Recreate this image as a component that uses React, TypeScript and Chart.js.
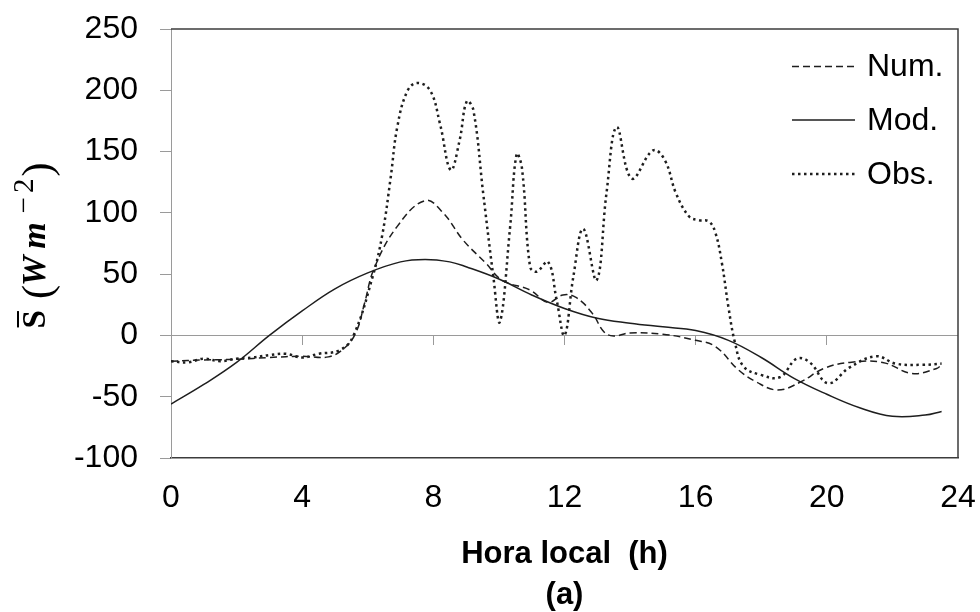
import React, { useEffect, useRef } from 'react';
import { Chart, registerables } from 'chart.js';

Chart.register(...registerables);

// ---- data ----
const seriesLabels = ['Num.', 'Mod.', 'Obs.'];
const xTitleLines = ['Hora local  (h)', '(a)'];
const xMin = 0;
const xMax = 24;
const xStep = 4;
const yMin = -100;
const yMax = 250;
const yStep = 50;

const numHours = [0, 1, 2, 3, 4, 4.8, 5.3, 5.65, 5.9, 6.2, 6.9, 7.75, 8.3, 8.9, 9.6, 10.1, 10.95, 11.5, 11.95, 12.35, 12.85, 13.2, 13.5, 14, 15, 16, 16.6, 17.3, 17.85, 18.5, 19.2, 19.9, 20.7, 21.7, 22.6, 23.35, 23.5];
const numValues = [-21, -20, -19.5, -18, -17, -17.5, -10, 3, 26, 55, 89, 110, 100, 78, 59, 45, 37, 27, 33, 31, 18, 3, -0.5, 2, 1, -4, -9, -28, -38, -44.5, -38, -27, -22, -22, -31, -27, -24];

const modHours = [0, 1, 2, 3, 4, 5, 6, 7, 7.75, 8.5, 9, 10, 11, 12, 13, 14, 15, 16, 17, 18, 19, 20, 21, 22, 23, 23.5];
const modValues = [-56, -40, -22, 0, 20, 38, 51, 60, 62, 60, 56, 46, 33, 22, 14, 10, 7, 4, -4, -18, -35, -48, -59, -66, -65, -62];

const obsHours = [0, 0.5, 1, 1.5, 2, 2.5, 3, 3.5, 4, 4.5, 5.15, 5.55, 6.15, 6.45, 6.7, 6.9, 7.2, 7.5, 7.9, 8.2, 8.53, 8.8, 9.02, 9.22, 9.52, 9.83, 10.03, 10.34, 10.54, 10.7, 10.95, 11.15, 11.5, 11.76, 12.0, 12.27, 12.57, 12.98, 13.28, 13.59, 14.05, 14.7, 15.06, 15.4, 15.8, 16.1, 16.4, 16.6, 16.8, 17.0, 17.2, 17.45, 17.96, 18.57, 19.08, 19.48, 20.04, 20.7, 21.5, 22.1, 22.9, 23.5];
const obsValues = [-21, -22, -19, -21, -19, -18, -16, -15, -18, -15, -12, -1, 48, 83, 129, 170, 199, 206, 200, 173, 135, 159, 191, 184, 116, 48, 11, 88, 148, 137, 56, 52, 60, 29, 0, 48, 87, 45, 116, 170, 128, 151, 143, 116, 97, 94, 93, 84, 59, 23, -6, -25, -32, -34, -19, -22, -39, -26, -17, -23, -24, -23];

const toPoints = (xs: number[], ys: number[]) => xs.map((x, i) => ({ x, y: ys[i] }));

const LINE = '#1e1e1e';
const FRAME = '#3c3c3c';
const AXIS = '#9a9a9a';
const SANS = '"Liberation Sans", Arial, sans-serif';
const SERIF = '"Liberation Serif", "Times New Roman", serif';

const framePlugin = {
  id: 'frameAndExtras',
  afterDraw(chart: any) {
    const { ctx, chartArea } = chart;
    const { left, right, top, bottom } = chartArea;
    ctx.save();
    ctx.strokeStyle = FRAME;
    ctx.lineWidth = 1.5;
    ctx.beginPath();
    ctx.moveTo(left, top);
    ctx.lineTo(right, top);
    ctx.lineTo(right, bottom);
    ctx.stroke();
    ctx.restore();

    // legend inside the plot area
    ctx.save();
    const rows = [66.5, 120, 174];
    const lineX0 = 792;
    const lineX1 = 855;
    chart.data.datasets.forEach((ds: any, i: number) => {
      const y = rows[i];
      ctx.strokeStyle = ds.borderColor;
      ctx.lineWidth = ds.borderWidth;
      ctx.setLineDash(ds.borderDash || []);
      ctx.beginPath();
      ctx.moveTo(lineX0, y);
      ctx.lineTo(lineX1, y);
      ctx.stroke();
      ctx.setLineDash([]);
      ctx.fillStyle = '#000';
      ctx.font = `32px ${SANS}`;
      ctx.textBaseline = 'middle';
      ctx.textAlign = 'left';
      ctx.fillText(ds.label, 867, y + 1);
    });
    ctx.restore();

    // y axis title: S̄ (W m^-2), rotated
    ctx.save();
    ctx.translate(45, 245.5);
    ctx.rotate(-Math.PI / 2);
    ctx.fillStyle = '#000';
    ctx.textBaseline = 'alphabetic';
    ctx.textAlign = 'left';
    const parts = [
      { t: 'S', f: `bold 33px ${SERIF}`, dy: 0, gap: 11, bar: true },
      { t: '(', f: `42px ${SERIF}`, dy: 6, gap: -1 },
      { t: 'W', f: `bold italic 34px ${SERIF}`, dy: 0, gap: 7 },
      { t: 'm', f: `bold italic 34px ${SERIF}`, dy: 0, gap: 9 },
      { t: '\u2212', f: `29px ${SERIF}`, dy: -12, gap: 4 },
      { t: '2', f: `29px ${SERIF}`, dy: -12, gap: 2 },
      { t: ')', f: `42px ${SERIF}`, dy: 6, gap: 0 },
    ];
    let total = 0;
    const widths = parts.map((p) => {
      ctx.font = p.f;
      const w = ctx.measureText(p.t).width;
      total += w + p.gap;
      return w;
    });
    total -= parts[parts.length - 1].gap;
    let u = -total / 2;
    parts.forEach((p, i) => {
      ctx.font = p.f;
      ctx.fillText(p.t, u, p.dy);
      if ((p as any).bar) {
        ctx.fillRect(u + 1, -28, widths[i] - 2, 2);
      }
      u += widths[i] + p.gap;
    });
    ctx.restore();
  },
};

export default function App() {
  const canvasRef = useRef<HTMLCanvasElement | null>(null);

  useEffect(() => {
    const canvas = canvasRef.current;
    if (!canvas) return;
    const chart = new Chart(canvas, {
      type: 'line',
      data: {
        datasets: [
          {
            label: seriesLabels[0],
            data: toPoints(numHours, numValues),
            borderColor: LINE,
            borderWidth: 1.5,
            borderDash: [7, 4],
            pointRadius: 0,
            tension: 0.4,
            fill: false,
          },
          {
            label: seriesLabels[1],
            data: toPoints(modHours, modValues),
            borderColor: LINE,
            borderWidth: 1.5,
            pointRadius: 0,
            tension: 0.4,
            fill: false,
          },
          {
            label: seriesLabels[2],
            data: toPoints(obsHours, obsValues),
            borderColor: LINE,
            borderWidth: 2.5,
            borderDash: [2.5, 3.5],
            pointRadius: 0,
            tension: 0.4,
            fill: false,
          },
        ],
      },
      options: {
        animation: false,
        responsive: false,
        maintainAspectRatio: false,
        layout: { padding: { left: 0, top: 29, right: 22, bottom: 0 } },
        plugins: {
          legend: { display: false },
          tooltip: { enabled: false },
        },
        scales: {
          x: {
            type: 'linear',
            position: 'bottom',
            min: xMin,
            max: xMax,
            ticks: {
              stepSize: xStep,
              color: '#000',
              font: { size: 32, family: SANS },
              padding: 13,
              maxRotation: 0,
            },
            grid: { display: false },
            border: { display: true, color: FRAME, width: 1.5 },
            title: {
              display: true,
              text: xTitleLines,
              color: '#000',
              font: { size: 31, weight: 'bold', family: SANS, lineHeight: '41px' },
              padding: { top: 0, bottom: -4 },
            },
            afterFit(scale: any) {
              scale.height = 154;
              scale.paddingLeft = 0;
              scale.paddingRight = 0;
            },
          },
          x2: {
            type: 'linear',
            position: { y: 0 },
            min: xMin,
            max: xMax,
            ticks: { display: false, stepSize: xStep },
            grid: {
              drawOnChartArea: false,
              drawTicks: true,
              tickLength: 10,
              tickWidth: 1,
              tickColor: (ctx: any) =>
                ctx.tick && (ctx.tick.value === xMin || ctx.tick.value === xMax) ? 'rgba(0,0,0,0)' : AXIS,
            },
            border: { display: false },
            afterFit(scale: any) {
              scale.paddingLeft = 0;
              scale.paddingRight = 0;
            },
          },
          y: {
            type: 'linear',
            position: 'left',
            min: yMin,
            max: yMax,
            ticks: {
              stepSize: yStep,
              color: '#000',
              font: { size: 32, family: SANS },
              padding: 22,
            },
            grid: {
              drawOnChartArea: true,
              drawTicks: true,
              tickLength: 11,
              tickColor: AXIS,
              lineWidth: 1,
              color: (ctx: any) => (ctx.tick && ctx.tick.value === 0 ? AXIS : 'rgba(0,0,0,0)'),
            },
            border: { display: true, color: AXIS, width: 1 },
            afterFit(scale: any) {
              scale.width = 171;
              scale.paddingTop = 0;
              scale.paddingBottom = 0;
            },
          },
        },
      } as any,
      plugins: [framePlugin],
    });
    return () => chart.destroy();
  }, []);

  return (
    <div style={{ position: 'fixed', left: 0, top: 0, width: 980, height: 612, background: '#fff' }}>
      <canvas ref={canvasRef} width={980} height={612} />
    </div>
  );
}
